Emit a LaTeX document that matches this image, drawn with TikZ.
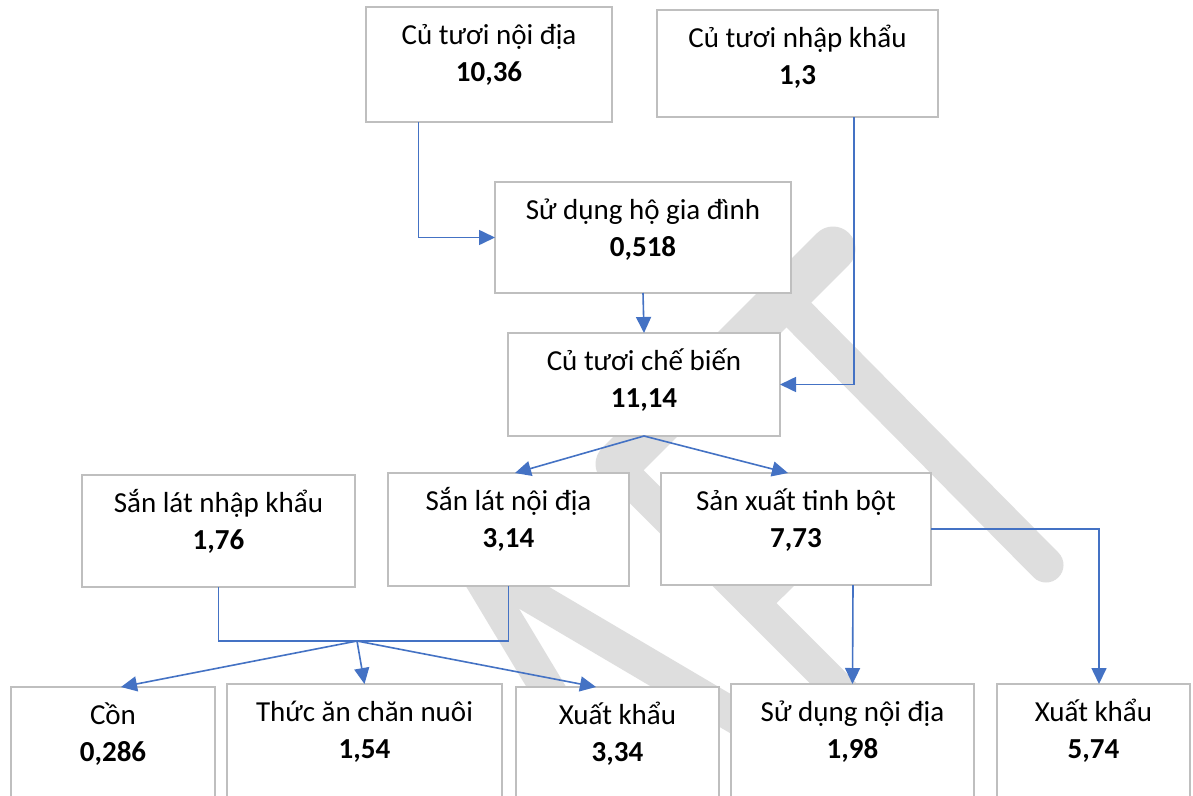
\documentclass[tikz,border=0pt]{standalone}
\usepackage{fontspec}
\setmainfont{Carlito}
\usetikzlibrary{arrows.meta}
\definecolor{flowblue}{RGB}{68,114,196}
\definecolor{boxgray}{RGB}{191,191,191}
\definecolor{wmgray}{RGB}{222,222,222}
\tikzset{
  bx/.style={draw=boxgray, line width=1.6pt, fill=white, inner sep=0pt, outer sep=0pt, anchor=north west},
  lbl/.style={anchor=north, inner sep=0pt, align=center, font=\fontsize{29}{37}\selectfont},
  flow/.style={draw=flowblue, line width=1.6pt, -{Triangle[length=16pt,width=15pt]}},
  link/.style={draw=flowblue, line width=1.6pt},
  wm/.style={draw=wmgray, line cap=round, line join=round},
}
\newcommand\firstline{\rule{0pt}{37.5pt}}
\begin{document}
\begin{tikzpicture}[x=1pt,y=-1pt]
\clip (0,0) rectangle (1193,795);
\fill[white] (0,0) rectangle (1193,795);
% watermark
\draw[wm, line width=45pt] (618,464) -- (833,249);
\draw[wm, line width=33pt] (622,472) -- (880,730);
\draw[wm, line width=35pt] (783,299) -- (1046,565);
\draw[wm, line width=33pt] (753,603) -- (800,557);
\draw[wm, line width=34pt] (470,560) -- (580,743);
\draw[wm, line width=34pt] (470,560) -- (860,790);
% boxes
\node[bx, minimum width=246pt, minimum height=115pt] (b1) at (366,7) {};
\node[bx, minimum width=281pt, minimum height=107pt] (b2) at (657,10) {};
\node[bx, minimum width=296pt, minimum height=111pt] (b3) at (495,182) {};
\node[bx, minimum width=272pt, minimum height=103pt] (b4) at (508,333) {};
\node[bx, minimum width=273pt, minimum height=112pt] (b5) at (82,475) {};
\node[bx, minimum width=241pt, minimum height=113pt] (b6) at (388,473) {};
\node[bx, minimum width=270pt, minimum height=112pt] (b7) at (661,473) {};
\node[bx, minimum width=204pt, minimum height=150pt] (b8) at (11,687) {};
\node[bx, minimum width=275pt, minimum height=150pt] (b9) at (227,684) {};
\node[bx, minimum width=203pt, minimum height=150pt] (b10) at (516,687) {};
\node[bx, minimum width=243pt, minimum height=150pt] (b11) at (731,684) {};
\node[bx, minimum width=193pt, minimum height=150pt] (b12) at (997,684) {};
% labels
\node[lbl] (t1) at (b1.north) {\firstline Củ tươi nội địa\\\textbf{10,36}};
\node[lbl] (t2) at (b2.north) {\firstline Củ tươi nhập khẩu\\\textbf{1,3}};
\node[lbl] (t3) at (b3.north) {\firstline Sử dụng hộ gia đình\\\textbf{0,518}};
\node[lbl] (t4) at (b4.north) {\firstline Củ tươi chế biến\\\textbf{11,14}};
\node[lbl] (t5) at (b5.north) {\firstline Sắn lát nhập khẩu\\\textbf{1,76}};
\node[lbl] (t6) at (b6.north) {\firstline Sắn lát nội địa\\\textbf{3,14}};
\node[lbl] (t7) at (b7.north) {\firstline Sản xuất tinh bột\\\textbf{7,73}};
\node[lbl] (t8) at (b8.north) {\firstline Cồn\\\textbf{0,286}};
\node[lbl] (t9) at (b9.north) {\firstline Thức ăn chăn nuôi\\\textbf{1,54}};
\node[lbl] (t10) at (b10.north) {\firstline Xuất khẩu\\\textbf{3,34}};
\node[lbl] (t11) at (b11.north) {\firstline Sử dụng nội địa\\\textbf{1,98}};
\node[lbl] (t12) at (b12.north) {\firstline Xuất khẩu\\\textbf{5,74}};
% connectors
\draw[flow] ([xshift=-70.5pt]b1.south) |- (b3.west);
\draw[flow] (b3.south) -- (b4.north);
\draw[flow] ([xshift=56.5pt]b2.south) |- (b4.east);
\draw[flow] (b4.south) -- ([xshift=6.5pt]b6.north);
\draw[flow] (b4.south) -- ([xshift=-8pt]b7.north);
\coordinate (jn) at (357,641);
\draw[link] (b5.south) |- (jn) -| (b6.south);
\draw[flow] (jn) -- ([xshift=8pt]b8.north);
\draw[flow] (jn) -- (b9.north);
\draw[flow] (jn) -- ([xshift=-21.5pt]b10.north);
\draw[flow] ([xshift=57pt]b7.south) -- (b11.north);
\draw[flow] (b7.east) -| ([xshift=5.5pt]b12.north);
\end{tikzpicture}
\end{document}
